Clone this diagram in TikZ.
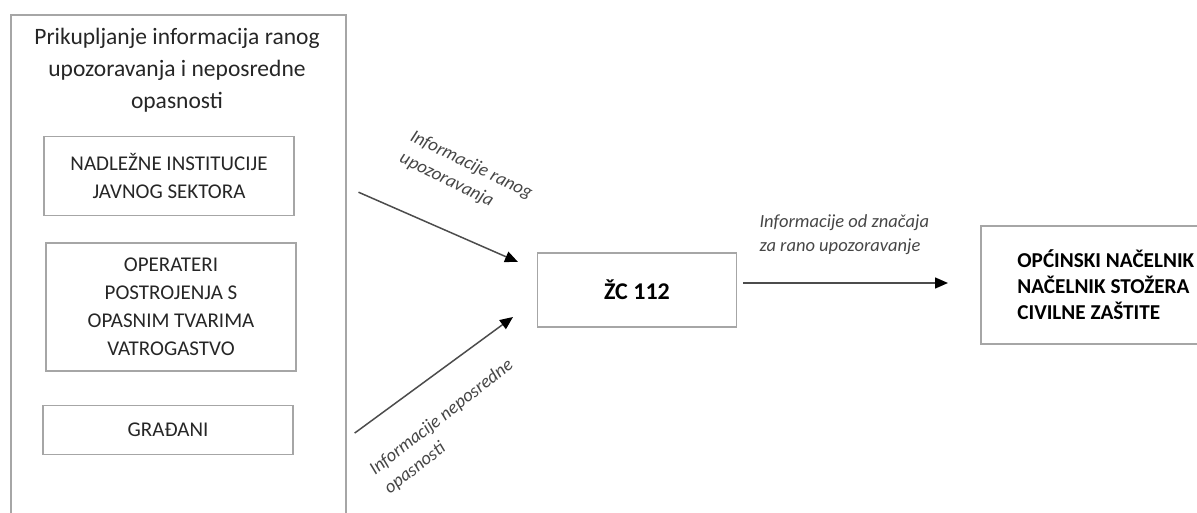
\documentclass[tikz,border=0pt]{standalone}
\usepackage{fontspec}
\setmainfont{Carlito}
\usepackage{tikz}
\usetikzlibrary{positioning,arrows.meta}

\begin{document}
\begin{tikzpicture}[x=1pt, y=-1pt, node distance=27pt,
  box/.style={rectangle, draw=gray!70, line width=1.6pt, align=center, text=black!85, font=\fontsize{21}{28}\selectfont},
  info/.style={align=left, text=gray!55!black, font=\itshape\fontsize{18.5}{24}\selectfont},
  flow/.style={draw=gray!60!black, line width=1.5pt, -{Triangle[length=13pt, width=11pt, color=black]}}]
\useasboundingbox (0,0) rectangle (1197,513);

% lijeva strana: prikupljanje
\node (collect) [rectangle, draw=gray!70, line width=1.6pt, minimum width=335pt, minimum height=560pt, anchor=north west] at (10,14) {};
\node (title) [align=center, text=black!85, font=\fontsize{23.5}{32}\selectfont] at (177,70) {Prikupljanje informacija ranog\\upozoravanja i neposredne\\opasnosti};
\node (javni) [box, minimum width=250pt, minimum height=79pt] at (169,176) {NADLEŽNE INSTITUCIJE\\JAVNOG SEKTORA};
\node (operateri) [box, minimum width=250pt, minimum height=128pt] at (171,307) {OPERATERI\\POSTROJENJA S\\OPASNIM TVARIMA\\VATROGASTVO};
\node (gradjani) [box, minimum width=250pt, minimum height=49pt] at (168,430) {GRAĐANI};

% sredina i desna strana
\node (zc) [box, minimum width=199pt, minimum height=74pt, text=black, font=\bfseries\fontsize{24}{28}\selectfont] at (637,290) {ŽC 112};
\node (nacelnik) [box, anchor=west, align=left, inner xsep=26pt, minimum width=250pt, minimum height=118pt, text=black, font=\bfseries\fontsize{21.2}{26}\selectfont] at (980,285) {OPĆINSKI NAČELNIK\\NAČELNIK STOŽERA\\CIVILNE ZAŠTITE};

\coordinate (ulazGore) at (518,262);
\coordinate (ulazDolje) at (513,317);

\draw[flow, shorten <=13pt] (collect.east |- 0,187) -- (ulazGore);
\draw[flow, shorten <=10pt] (collect.east |- 0,439) -- (ulazDolje);
\draw[flow, shorten <=6pt, shorten >=32pt] (zc.east |- 0,283) -- (nacelnik.west |- 0,283);

\node (rano) [info, rotate=-26] at (466,176) {Informacije ranog\\upozoravanja};
\node (neposredno) [info, rotate=38] at (449,427) {Informacije neposredne\\opasnosti};
\node (znacaj) [info, anchor=west] at (756,235) {Informacije od značaja\\za rano upozoravanje};
\end{tikzpicture}
\end{document}
